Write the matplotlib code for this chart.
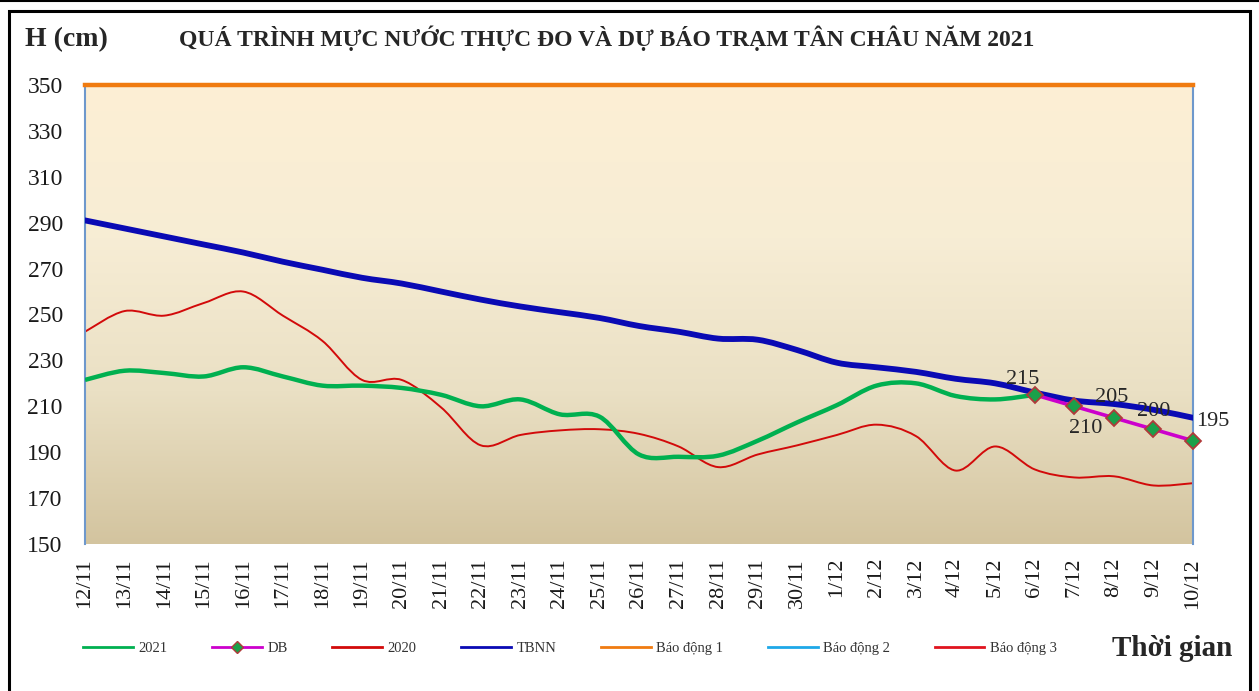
import numpy as np
import matplotlib
matplotlib.use("Agg")
import matplotlib.pyplot as plt
from matplotlib.path import Path
from matplotlib.patches import PathPatch, Rectangle
from matplotlib.lines import Line2D
from matplotlib.colors import LinearSegmentedColormap

# ---------------- data ----------------
dates = ["12/11", "13/11", "14/11", "15/11", "16/11", "17/11", "18/11", "19/11", "20/11",
         "21/11", "22/11", "23/11", "24/11", "25/11", "26/11", "27/11", "28/11", "29/11",
         "30/11", "1/12", "2/12", "3/12", "4/12", "5/12", "6/12", "7/12", "8/12", "9/12", "10/12"]

h2021 = [221.5, 225.5, 224.5, 223, 227, 223, 219, 219, 218, 215, 210, 213, 206.5, 205.5,
         189, 188, 188.5, 195, 203, 210.5, 219, 220, 214.5, 213, 215]

db_dates = ["6/12", "7/12", "8/12", "9/12", "10/12"]
db = [215, 210, 205, 200, 195]

h2020 = [242.5, 251.5, 249.5, 255, 260, 249.5, 238.5, 221.5, 221.5, 209.5, 193, 197.5, 199.5,
         200, 198, 192.5, 183.5, 189, 193, 197.5, 202, 197, 182, 192.5, 182.5, 179, 179.5,
         175.5, 176.5]

tbnn = [291, 287.5, 284, 280.5, 277, 273, 269.5, 266, 263.5, 260, 256.5, 253.5, 251, 248.5,
        245, 242.5, 239.5, 239, 234.5, 229, 227, 225, 222, 220, 216, 212.5, 211, 208.5, 205]

bd1, bd2, bd3 = 350, 400, 450

yticks = [150, 170, 190, 210, 230, 250, 270, 290, 310, 330, 350]

SERIF = ["Liberation Serif", "DejaVu Serif"]


def smooth_path(xs, ys, tension=1 / 6.0):
    """Cubic Bezier path through the points (Excel-like smoothed line)."""
    pts = np.column_stack([np.asarray(xs, float), np.asarray(ys, float)])
    n = len(pts)
    verts = [pts[0]]
    codes = [Path.MOVETO]
    for i in range(n - 1):
        p0 = pts[i - 1] if i > 0 else pts[i]
        p1 = pts[i]
        p2 = pts[i + 1]
        p3 = pts[i + 2] if i + 2 < n else pts[i + 1]
        verts += [p1 + (p2 - p0) * tension, p2 - (p3 - p1) * tension, p2]
        codes += [Path.CURVE4] * 3
    return Path(verts, codes)


W, H = 1259, 691
fig = plt.figure(figsize=(W / 100, H / 100), dpi=100)
ax = fig.add_axes([85 / W, 1 - 544 / H, (1193 - 85) / W, (544 - 85) / H])

x_all = np.arange(len(dates))
ax.set_xlim(0, len(dates) - 1)
ax.set_ylim(150, 350)

# gradient background
grad = np.linspace(0, 1, 256).reshape(-1, 1)
cmap = LinearSegmentedColormap.from_list("bg", ["#D3C49F", "#EAE0C4", "#F7EDD5", "#FDEFD4"])
ax.imshow(grad, aspect="auto", cmap=cmap, origin="lower",
          extent=[0, len(dates) - 1, 150, 350], zorder=0)

# alarm lines
ax.axhline(bd1, color="#F07B10", lw=3.2, zorder=5, clip_on=False)
ax.axhline(bd2, color="#1EA8E8", lw=2, zorder=5)
ax.axhline(bd3, color="#E0141E", lw=2, zorder=5)

# series (smoothed)
x2021 = x_all[:len(h2021)]
ax.add_patch(PathPatch(smooth_path(x_all, tbnn), fill=False, ec="#0A0AB4", lw=4.2,
                       zorder=3, capstyle="round", joinstyle="round"))
ax.add_patch(PathPatch(smooth_path(x_all, h2020), fill=False, ec="#D20A0A", lw=1.4, zorder=2))
ax.add_patch(PathPatch(smooth_path(x2021, h2021), fill=False, ec="#00B050", lw=3.2, zorder=3))

xdb = [dates.index(d) for d in db_dates]
ax.plot(xdb, db, color="#CC00CC", lw=2.6, zorder=4, clip_on=False,
        marker="D", markersize=8, markerfacecolor="#1BA04A", markeredgecolor="#B03A3A",
        markeredgewidth=1.3)

# DB labels
offsets = [(-9, 11), (8, -16), (-1.5, 14.5), (0, 13), (14, 14)]
for xi, v, (dx, dy) in zip(xdb, db, offsets):
    ax.annotate(str(v), (xi, v), xytext=(dx, dy), textcoords="offset points",
                ha="center", va="center", fontsize=16, color="#262626",
                family=SERIF, zorder=6, annotation_clip=False)

# axes styling
ax.set_yticks(yticks)
ax.set_yticklabels([str(t) for t in yticks], family=SERIF, fontsize=17, color="#1a1a1a")
ax.set_xticks(x_all)
ax.set_xticklabels(dates, rotation=90, family=SERIF, fontsize=16, color="#1a1a1a")
ax.tick_params(axis="both", length=0)
ax.tick_params(axis="x", pad=10)
ax.tick_params(axis="y", pad=16)
for s in ["top", "bottom"]:
    ax.spines[s].set_visible(False)
for s in ["left", "right"]:
    ax.spines[s].set_color("#6E98CC")
    ax.spines[s].set_linewidth(1.5)

# titles
fig.text(25 / W, 1 - 40 / H, "H (cm)", family=SERIF, fontweight="bold", fontsize=20,
         color="#262626", va="center", ha="left")
fig.text(607 / W, 1 - 38 / H, "QUÁ TRÌNH MỰC NƯỚC THỰC ĐO VÀ DỰ BÁO TRẠM TÂN CHÂU NĂM 2021",
         family=SERIF, fontweight="bold", fontsize=17, color="#262626",
         va="center", ha="center")
fig.text(1232 / W, 1 - 648 / H, "Thời gian", family=SERIF, fontweight="bold", fontsize=21,
         color="#262626", va="center", ha="right")

# legend
handles = [
    Line2D([], [], color="#00B050", lw=2),
    Line2D([], [], color="#CC00CC", lw=2, marker="D", markersize=6,
           markerfacecolor="#1BA04A", markeredgecolor="#B03A3A"),
    Line2D([], [], color="#D20A0A", lw=2),
    Line2D([], [], color="#0A0AB4", lw=2),
    Line2D([], [], color="#F07B10", lw=2),
    Line2D([], [], color="#1EA8E8", lw=2),
    Line2D([], [], color="#E0141E", lw=2),
]
labels = ["2021", "DB", "2020", "TBNN", "Báo động 1", "Báo động 2", "Báo động 3"]
leg = fig.legend(handles, labels, loc="center left", bbox_to_anchor=(70 / W, 1 - 648 / H),
                 ncol=7, frameon=False, handlelength=3.4, columnspacing=3.05,
                 handletextpad=0.4, prop={"family": SERIF, "size": 10.5})
for t in leg.get_texts():
    t.set_color("#333333")

# frame
fig.add_artist(Line2D([0, 1], [1 - 1 / H, 1 - 1 / H], color="black", lw=1.5,
                      transform=fig.transFigure))
fig.add_artist(Rectangle((9 / W, -0.05), (1250 - 9) / W, (1 - 11 / H) + 0.05,
                         fill=False, ec="black", lw=2.2, transform=fig.transFigure))

fig.savefig("out.png", dpi=100)
